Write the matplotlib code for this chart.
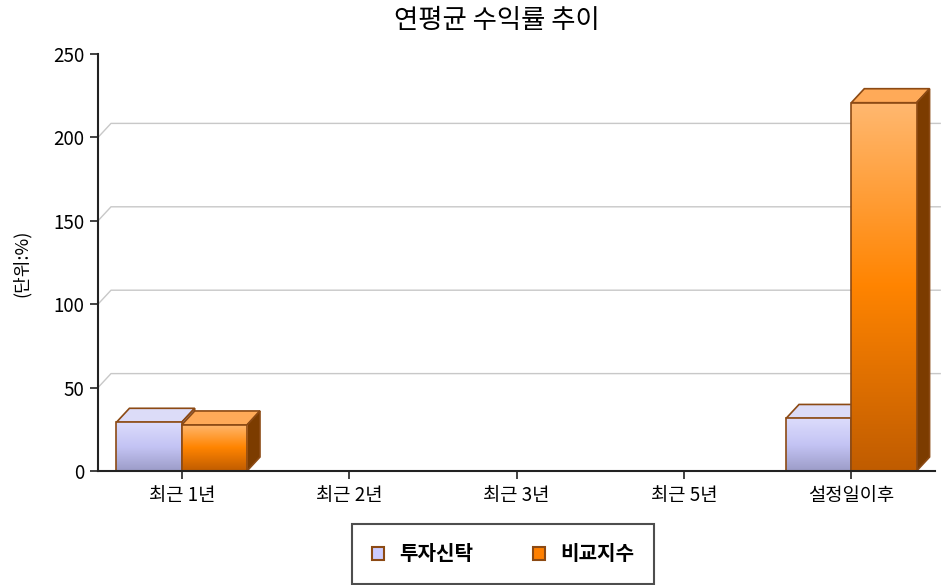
import numpy as np
import matplotlib
matplotlib.use("Agg")
import matplotlib.pyplot as plt
from matplotlib.patches import Polygon, Patch
from matplotlib.colors import LinearSegmentedColormap

plt.rcParams['font.family'] = ['Noto Sans CJK KR', 'DejaVu Sans']

# data
categories = ['최근 1년', '최근 2년', '최근 3년', '최근 5년', '설정일이후']
fund = [29.2, np.nan, np.nan, np.nan, 31.5]
index = [27.6, np.nan, np.nan, np.nan, 220.8]
series_names = ['투자신탁', '비교지수']
title = '연평균 수익률 추이'
ylabel = '(단위:%)'
yticks = [0, 50, 100, 150, 200, 250]

W, H = 943, 585
fig = plt.figure(figsize=(W / 100, H / 100), dpi=100)
ax_l, ax_b, ax_w, ax_h = 98, 114, 837, 417
ax = fig.add_axes([ax_l / W, ax_b / H, ax_w / W, ax_h / H])
ax.set_xlim(-0.5, 4.5)
ax.set_ylim(0, 250)

# 3D depth, pixels -> data units
dpx, dpy = 13, 14
ddx = dpx * 5 / ax_w
ddy = dpy * 250 / ax_h

edge = '#8c4a14'
styles = [
    dict(grad=['#dcdcfc', '#c4c4f4', '#9c9cc8'], top='#dcdcf8', side='#a8a8d0'),
    dict(grad=['#ffb870', '#ff8400', '#c05c00'], top='#ffaa58', side='#7c3c00'),
]

# back gridlines with diagonal connector
for v in yticks[1:-1]:
    ax.plot([-0.5, -0.5 + ddx, 4.5 + ddx * 0.4], [v, v + ddy, v + ddy],
            color='#c8c8c8', lw=1, clip_on=False, zorder=0)

bw = 0.39
x = np.arange(len(categories))
for i, vals in enumerate([fund, index]):
    st = styles[i]
    z = 2 + i * 3
    cmap = LinearSegmentedColormap.from_list('g%d' % i, st['grad'][::-1])
    xs = x - bw + i * bw
    bars = ax.bar(xs, vals, width=bw, align='edge', color='none',
                  edgecolor=edge, lw=1.2, zorder=z + 2)
    for b, v in zip(bars, vals):
        if np.isnan(v):
            continue
        x0, x1 = b.get_x(), b.get_x() + b.get_width()
        # gradient front face
        grad = np.linspace(0, 1, 256).reshape(-1, 1)
        im = ax.imshow(grad, extent=[x0, x1, 0, v], origin='lower', cmap=cmap,
                       aspect='auto', zorder=z + 1)
        im.set_clip_path(b)
        # top face
        ax.add_patch(Polygon([(x0, v), (x1, v), (x1 + ddx, v + ddy), (x0 + ddx, v + ddy)],
                             closed=True, facecolor=st['top'], edgecolor=edge,
                             lw=1.2, zorder=z, clip_on=False))
        # side face
        ax.add_patch(Polygon([(x1, 0), (x1 + ddx, ddy), (x1 + ddx, v + ddy), (x1, v)],
                             closed=True, facecolor=st['side'], edgecolor=edge,
                             lw=1.2, zorder=z, clip_on=False))

ax.set_xticks(x)
ax.set_xticklabels(categories, fontsize=13.5)
ax.set_yticks(yticks)
ax.set_yticklabels([str(t) for t in yticks], fontsize=13.5)
ax.tick_params(axis='both', length=6, width=1.2, color='#222222', pad=4)
for s in ['top', 'right']:
    ax.spines[s].set_visible(False)
for s in ['left', 'bottom']:
    ax.spines[s].set_linewidth(1.5)
    ax.spines[s].set_color('#222222')
    ax.spines[s].set_zorder(10)

fig.text(22 / W, 1 - 263 / H, ylabel, rotation=90, ha='center', va='center', fontsize=13)
fig.text(497 / W, 1 - 20 / H, title, ha='center', va='center', fontsize=19)

handles = [Patch(facecolor='#ccccff', edgecolor=edge, lw=1.5),
           Patch(facecolor='#ff8000', edgecolor=edge, lw=1.5)]
leg = fig.legend(handles, series_names, loc='center', ncol=2,
                 bbox_to_anchor=(503 / W, 1 - 554 / H), frameon=True,
                 fancybox=False, edgecolor='#222222',
                 handlelength=0.6, handleheight=0.6, columnspacing=3.0,
                 borderpad=0.95, handletextpad=0.75,
                 prop={'weight': 'bold', 'size': 14.5})
leg.get_frame().set_linewidth(1.5)

fig.savefig('out.png', dpi=100)
